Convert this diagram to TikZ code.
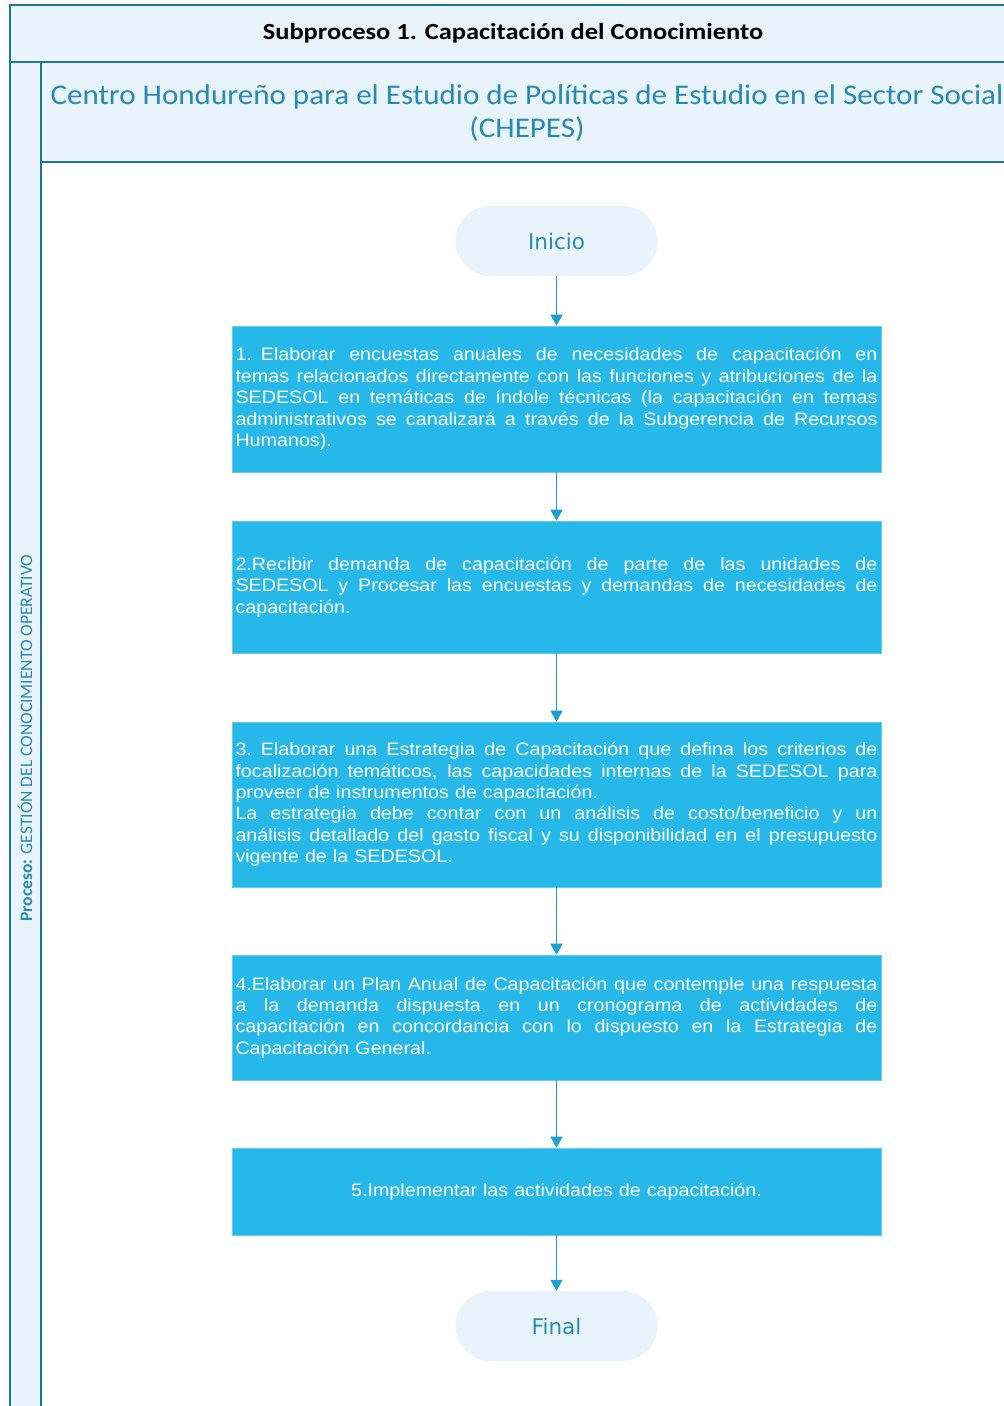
\documentclass[tikz,border=0pt]{standalone}
\usepackage{fontspec}
\setmainfont{Liberation Sans}
\newfontfamily\boxfont[FakeStretch=1.095]{Liberation Sans}
\newfontfamily\carlH[FakeStretch=1.15]{Carlito}
\newfontfamily\carlT[FakeStretch=1.09]{Carlito}
\newfontfamily\carl{Carlito}
\newfontfamily\dvs{DejaVu Sans}
\usetikzlibrary{arrows.meta}
\definecolor{lineC}{RGB}{30,118,150}
\definecolor{paleC}{RGB}{232,243,251}
\definecolor{boxC}{RGB}{37,184,233}
\definecolor{tealT}{RGB}{40,138,178}
\definecolor{arrC}{RGB}{28,160,208}
\newlength\jw
\setlength\jw{642pt}
\newcommand\jl[1]{\leavevmode\hbox to\jw{\spaceskip=\fontdimen2\font plus 1fil\relax #1}}
\tikzset{
  stepbox/.style={rectangle, fill=boxC, draw=boxC!70!white, line width=0.6pt,
    minimum width=649pt, inner xsep=3.5pt, inner ysep=0pt, text width=\jw,
    text=white, align=left, font=\boxfont\fontsize{18}{21.4}\selectfont},
  term/.style={rectangle, rounded corners=35pt, fill=paleC, minimum width=202pt,
    minimum height=70pt, text=tealT, font=\dvs\fontsize{21.5}{25}\selectfont},
  flow/.style={draw=arrC, line width=1.4pt, -{Triangle[width=12pt,length=11pt]}},
  frame/.style={draw=lineC, line width=2pt}
}
\begin{document}
\begin{tikzpicture}[x=1pt,y=-1pt]
\useasboundingbox (0,0) rectangle (1004,1406);
\fill[white] (0,0) rectangle (1004,1406);
% backgrounds
\fill[paleC] (10,5) rectangle (1004,62);
\fill[paleC] (10,62) rectangle (41,1406);
\fill[paleC] (41,62) rectangle (1004,162);
% frame lines
\draw[frame] (1004,5) -- (10,5) -- (10,1406);
\draw[frame] (10,62) -- (1004,62);
\draw[frame] (41,62) -- (41,1406);
\draw[frame] (41,162) -- (1004,162);
% header texts
\node (hdr) at (513,33) {\carlH\bfseries\fontsize{23}{27}\selectfont Subproceso 1. Capacitación del Conocimiento};
\node[align=center, text=tealT, font=\carlT\fontsize{28.5}{32.5}\selectfont] (ttl) at (527,113)
  {Centro Hondureño para el Estudio de Políticas de Estudio en el Sector Social\\(CHEPES)};
\node[rotate=90, text=tealT, font=\carl\fontsize{17.5}{20}\selectfont] (proc) at (25,738)
  {\textbf{Proceso:} GESTIÓN DEL CONOCIMIENTO OPERATIVO};
% terminals
\node[term] (ini) at (556.5,241) {Inicio};
\node[term] (fin) at (556.5,1326) {Final};
% boxes
\node[stepbox, minimum height=146pt] (b1) at (556.5,399) {%
\jl{1. Elaborar encuestas anuales de necesidades de capacitación en}\\
\jl{temas relacionados directamente con las funciones y atribuciones de la}\\
\jl{SEDESOL en temáticas de índole técnicas (la capacitación en temas}\\
\jl{administrativos se canalizará a través de la Subgerencia de Recursos}\\
Humanos).};
\node[stepbox, minimum height=132pt] (b2) at (556.5,587) {%
\jl{2.Recibir demanda de capacitación de parte de las unidades de}\\
\jl{SEDESOL y Procesar las encuestas y demandas de necesidades de}\\
capacitación.};
\node[stepbox, minimum height=165pt] (b3) at (556.5,804.5) {%
\jl{3. Elaborar una Estrategia de Capacitación que defina los criterios de}\\
\jl{focalización temáticos, las capacidades internas de la SEDESOL para}\\
proveer de instrumentos de capacitación.\\
\jl{La estrategia debe contar con un análisis de costo/beneficio y un}\\
\jl{análisis detallado del gasto fiscal y su disponibilidad en el presupuesto}\\
vigente de la SEDESOL.};
\node[stepbox, minimum height=125pt] (b4) at (556.5,1017.5) {%
\jl{4.Elaborar un Plan Anual de Capacitación que contemple una respuesta}\\
\jl{a la demanda dispuesta en un cronograma de actividades de}\\
\jl{capacitación en concordancia con lo dispuesto en la Estrategia de}\\
Capacitación General.};
\node[stepbox, minimum height=87pt, align=center] (b5) at (556.5,1191.5) {5.Implementar las actividades de capacitación.};
% connectors
\draw[flow] (ini.south) -- (b1.north);
\draw[flow] (b1.south) -- (b2.north);
\draw[flow] (b2.south) -- (b3.north);
\draw[flow] (b3.south) -- (b4.north);
\draw[flow] (b4.south) -- (b5.north);
\draw[flow] (b5.south) -- (fin.north);
\end{tikzpicture}
\end{document}
